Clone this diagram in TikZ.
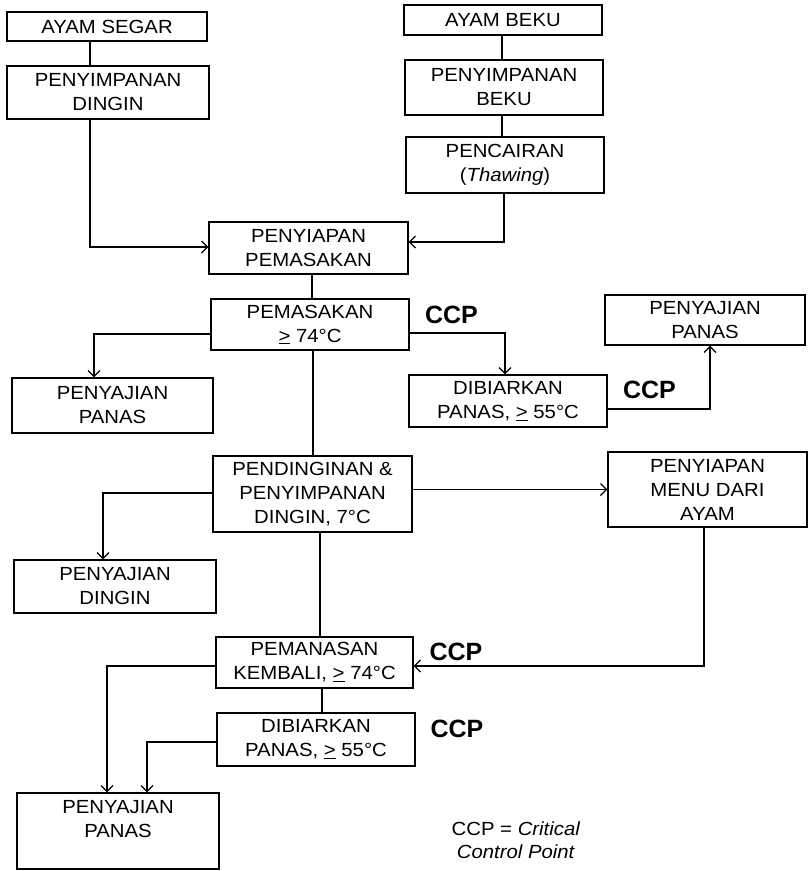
\documentclass[tikz,border=0pt]{standalone}
\usepackage{fontspec}
\setmainfont{Liberation Sans}[FakeStretch=1.07]
\newfontfamily\ccpfont{Liberation Sans}
\usetikzlibrary{arrows.meta}
\newcommand\gte{\underline{>}}
\begin{document}
\begin{tikzpicture}[x=1pt,y=-1pt,
  box/.style={draw,line width=1.3pt,align=center,inner sep=0pt,font=\fontsize{19}{24}\selectfont},
  sz/.style 2 args={minimum width=#1pt,minimum height=#2pt},
  conn/.style={line width=1.3pt},
  arr/.style={conn,-{Straight Barb[length=6pt,width=12pt,line width=1.2pt]}},
  ccp/.style={inner sep=0pt,font=\ccpfont\bfseries\fontsize{25}{30}\selectfont},
  legend/.style={inner sep=0pt,align=center,font=\fontsize{19}{23}\selectfont},
]
\useasboundingbox (0,0) rectangle (809,871);

% boxes
\node[box,sz={200}{29}] (segar) at (107,26.5) {AYAM SEGAR};
\node[box,sz={202}{53}] (dingin) at (108,92.5) {PENYIMPANAN\\DINGIN};
\node[box,sz={198}{30}] (beku) at (503,20) {AYAM BEKU};
\node[box,sz={198}{55}] (pbeku) at (504,87.5) {PENYIMPANAN\\BEKU};
\node[box,sz={198}{56}] (cair) at (505,165) {PENCAIRAN\\(\textit{Thawing})};
\node[box,sz={199}{52}] (siap) at (308.5,248) {PENYIAPAN\\PEMASAKAN};
\node[box,sz={198}{51}] (masak) at (310,324.5) {PEMASAKAN\\\gte{} 74°C};
\node[box,sz={201}{55}] (saji1) at (112.5,405.5) {PENYAJIAN\\PANAS};
\node[box,sz={198}{52}] (biar1) at (508,401) {DIBIARKAN\\PANAS, \gte{} 55°C};
\node[box,sz={200}{50}] (saji2) at (705,320) {PENYAJIAN\\PANAS};
\node[box,sz={199}{76}] (dinginan) at (312.5,494) {PENDINGINAN \&\\PENYIMPANAN\\DINGIN, 7°C};
\node[box,sz={202}{53}] (sajid) at (115,586.5) {PENYAJIAN\\DINGIN};
\node[box,sz={199}{75}] (menu) at (707.5,489.5) {PENYIAPAN\\MENU DARI\\AYAM};
\node[box,sz={197}{51}] (panas) at (314.5,662.5) {PEMANASAN\\KEMBALI, \gte{} 74°C};
\node[box,sz={198}{53}] (biar2) at (316,739.5) {DIBIARKAN\\PANAS, \gte{} 55°C};
\node[box,sz={202}{76}] (saji3) at (118,831) {PENYAJIAN\\PANAS\\\mbox{}};

% labels
\node[ccp] (c1) at (451.5,315) {CCP};
\node[ccp] (c2) at (649.5,390) {CCP};
\node[ccp] (c3) at (456,652) {CCP};
\node[ccp] (c4) at (457,728.5) {CCP};
\node[legend] (leg) at (516,840.5) {CCP = \textit{Critical}\\\textit{Control Point}};

% x positions of vertical runs
\coordinate (xa) at (90,0);
\coordinate (xb) at (502,0);
\coordinate (xc) at (504,0);
\coordinate (s1) at (312,0);
\coordinate (s2) at (313,0);
\coordinate (s3) at (320,0);
\coordinate (s4) at (322,0);
\coordinate (x94) at (94,0);
\coordinate (x505) at (505,0);
\coordinate (x710) at (710,0);
\coordinate (x103) at (103,0);
\coordinate (x704) at (704,0);
\coordinate (x107) at (107,0);
\coordinate (x147) at (147,0);

% connectors
\draw[conn] (segar.south -| xa) -- (dingin.north -| xa);
\draw[arr] (dingin.south -| xa) |- ([yshift=1pt]siap.west);
\draw[conn] (beku.south -| xb) -- (pbeku.north -| xb);
\draw[conn] (pbeku.south -| xb) -- (cair.north -| xb);
\draw[arr] (cair.south -| xc) |- ([yshift=6pt]siap.east);
\draw[conn] (siap.south -| s1) -- (masak.north -| s1);
\draw[arr] ([yshift=-9.5pt]masak.west) -| (saji1.north -| x94);
\draw[arr] ([yshift=-8.5pt]masak.east) -| (biar1.north -| x505);
\draw[arr] ([yshift=-8pt]biar1.east) -| (saji2.south -| x710);
\draw[conn] (masak.south -| s2) -- (dinginan.north -| s2);
\draw[arr] ([yshift=1pt]dinginan.west) -| (sajid.north -| x103);
\draw[arr] (dinginan.east |- menu.west) -- (menu.west);
\draw[arr] (menu.south -| x704) |- ([yshift=-3.5pt]panas.east);
\draw[conn] (dinginan.south -| s3) -- (panas.north -| s3);
\draw[conn] (panas.south -| s4) -- (biar2.north -| s4);
\draw[arr] ([yshift=-3.5pt]panas.west) -| (saji3.north -| x107);
\draw[arr] ([yshift=-2.5pt]biar2.west) -| (saji3.north -| x147);
\end{tikzpicture}
\end{document}
